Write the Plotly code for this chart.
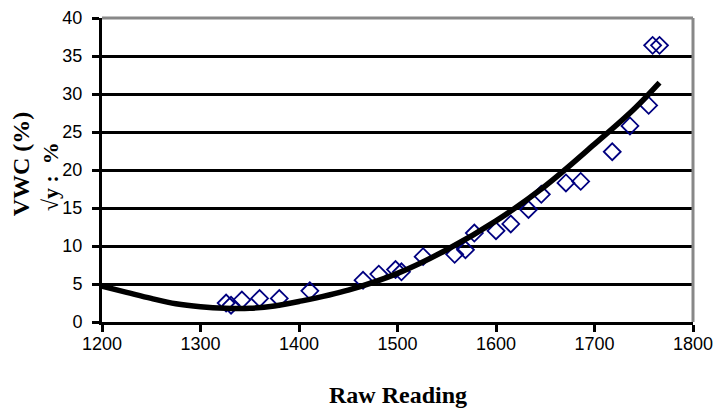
import plotly.graph_objects as go

raw_reading = [1326, 1331, 1342, 1360, 1380, 1411, 1465, 1481, 1498, 1504, 1526,
               1558, 1569, 1578, 1600, 1615, 1633, 1646, 1671, 1686, 1718, 1736,
               1755, 1759, 1766]
vwc = [2.5, 2.2, 2.9, 3.1, 3.1, 4.1, 5.5, 6.3, 6.9, 6.6, 8.6,
       8.9, 9.5, 11.7, 12.0, 12.9, 14.8, 16.8, 18.3, 18.5, 22.4, 25.8,
       28.5, 36.4, 36.4]

# Trendline
trend_x = [1200, 1225, 1250, 1275, 1300, 1325, 1350, 1375, 1400, 1450, 1500,
           1550, 1600, 1650, 1700, 1740, 1766]
trend_y = [4.7, 3.9, 3.1, 2.4, 2.0, 1.8, 1.8, 2.1, 2.7, 4.2, 6.4,
           9.5, 13.3, 17.9, 23.4, 28.0, 31.5]

x_ticks = [1200, 1300, 1400, 1500, 1600, 1700, 1800]
y_ticks = [0, 5, 10, 15, 20, 25, 30, 35, 40]

fig = go.Figure()
fig.add_trace(go.Scatter(
    x=raw_reading, y=vwc, mode="markers",
    marker=dict(symbol="diamond-open", size=13, color="#000080",
                line=dict(width=1.8, color="#000080")),
    showlegend=False, cliponaxis=False))
fig.add_trace(go.Scatter(
    x=trend_x, y=trend_y, mode="lines",
    line=dict(color="black", width=5.5, shape="spline"),
    showlegend=False))

tickfont = dict(family="Liberation Sans, Arial", size=18, color="black")
serif = "Liberation Serif, Times New Roman"

fig.update_layout(
    width=714, height=401,
    margin=dict(l=94, r=29, t=10, b=87),
    paper_bgcolor="white", plot_bgcolor="white",
    xaxis=dict(range=[1200, 1800], tickvals=x_ticks, ticktext=[str(v) for v in x_ticks],
               showgrid=False, zeroline=False, automargin=False,
               showline=True, linecolor="black", linewidth=3,
               ticks="outside", ticklen=7, tickwidth=3, tickcolor="black",
               tickfont=tickfont, ticklabelstandoff=-4, ticklabeloverflow="allow"),
    yaxis=dict(range=[0, 40], tickvals=y_ticks, ticktext=[str(v) for v in y_ticks],
               showgrid=True, gridcolor="black", gridwidth=3, zeroline=False,
               automargin=False,
               showline=True, linecolor="black", linewidth=3,
               ticks="outside", ticklen=7, tickwidth=3, tickcolor="black",
               tickfont=tickfont, ticklabelstandoff=6, ticklabeloverflow="allow"),
    shapes=[
        dict(type="line", xref="x domain", yref="y domain", x0=0, x1=1, y0=1, y1=1,
             line=dict(color="#888888", width=3), layer="above"),
        dict(type="line", xref="x domain", yref="y domain", x0=1, x1=1, y0=0, y1=1,
             line=dict(color="#888888", width=3), layer="above"),
    ],
    annotations=[
        dict(text="<b>VWC (%)</b>", xref="paper", yref="paper", x=-0.138, y=0.52,
             xanchor="center", yanchor="middle", textangle=-90, showarrow=False,
             font=dict(family=serif, size=24, color="black")),
        dict(text="<b>Raw Reading</b>", xref="paper", yref="paper", x=0.5, y=-0.24,
             xanchor="center", yanchor="middle", showarrow=False,
             font=dict(family=serif, size=24, color="black")),
        dict(text="<b>√y :  %</b>", xref="paper", yref="paper", x=-0.088, y=0.48,
             xanchor="center", yanchor="middle", textangle=-90, showarrow=False,
             font=dict(family=serif, size=22, color="black")),
    ],
)

fig.write_html("out.html")
